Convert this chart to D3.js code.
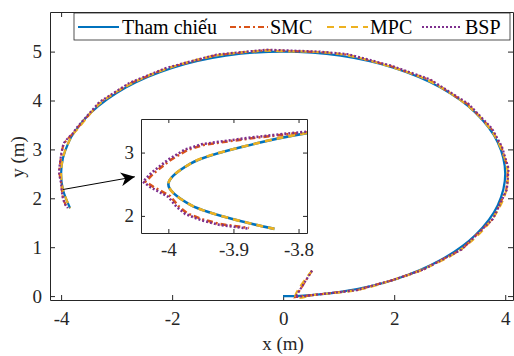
<!DOCTYPE html>
<html>
<head>
<meta charset="utf-8">
<script src="https://cdn.jsdelivr.net/npm/d3@7"></script>
<style>
  body { margin: 0; background: #fff; }
</style>
</head>
<body>
<svg id="chart" width="514" height="356"></svg>
<script>
// reference path (x, y) in metres
var refX = [0, 0.3, 1.035, 2.0, 2.828, 3.464, 3.864, 4.0, 3.864, 3.464, 2.828, 2.0, 1.035, 0, -1.035, -2.0, -2.828, -3.464, -3.780, -3.864, -3.966, -4.0, -3.966, -3.837];
var refY = [0, 0.003, 0.085, 0.335, 0.732, 1.25, 1.853, 2.5, 3.147, 3.75, 4.268, 4.665, 4.915, 5.0, 4.915, 4.665, 4.268, 3.75, 3.32, 3.147, 2.826, 2.5, 2.174, 1.795];

// SMC
var smcX = [0.52, 0.22, 0.6, 1.32, 1.98, 2.52, 3.21, 3.78, 4.02, 4.05, 3.93, 3.75, 3.33, 2.64, 1.92, 1.14, 0.66, -0.06, -0.3, -1.2, -2.1, -2.76, -3.3, -3.72, -3.787, -3.817, -3.869, -3.92, -3.946, -3.971, -3.997, -4.023, -4.035, -4.023, -3.997, -3.984, -3.971, -3.946, -3.92, -3.876];
var smcY = [0.52, -0.02, 0.03, 0.12, 0.33, 0.54, 0.95, 1.58, 2.17, 2.6, 3.05, 3.42, 3.92, 4.42, 4.71, 4.94, 4.99, 5.02, 5.03, 4.93, 4.66, 4.35, 3.96, 3.42, 3.32, 3.29, 3.23, 3.16, 3.12, 3.04, 2.88, 2.67, 2.54, 2.46, 2.31, 2.15, 2.04, 1.94, 1.87, 1.81];

// MPC
var mpcX = [0.52, 0.22, 0.6, 1.32, 1.98, 2.52, 3.21, 3.78, 4.02, 4.04, 3.92, 3.74, 3.32, 2.63, 1.91, 1.13, 0.65, -0.06, -0.3, -1.2, -2.1, -2.76, -3.3, -3.70, -3.780, -3.864, -3.966, -4.0, -3.966, -3.837];
var mpcY = [0.52, -0.02, 0.03, 0.12, 0.33, 0.55, 0.96, 1.6, 2.17, 2.58, 3.03, 3.4, 3.9, 4.4, 4.7, 4.93, 4.99, 5.01, 5.02, 4.92, 4.65, 4.33, 3.94, 3.42, 3.32, 3.147, 2.826, 2.5, 2.174, 1.795];

// BSP
var bspX = [0.52, 0.22, 0.6, 1.32, 1.98, 2.52, 3.21, 3.78, 4.03, 4.06, 3.94, 3.76, 3.34, 2.65, 1.93, 1.15, 0.66, -0.06, -0.3, -1.2, -2.1, -2.77, -3.31, -3.73, -3.787, -3.818, -3.871, -3.923, -3.949, -3.974, -4.0, -4.026, -4.039, -4.027, -4.0, -3.987, -3.974, -3.949, -3.922, -3.878];
var bspY = [0.52, -0.02, 0.03, 0.12, 0.33, 0.54, 0.95, 1.58, 2.18, 2.61, 3.06, 3.43, 3.93, 4.43, 4.72, 4.95, 5.0, 5.03, 5.04, 4.94, 4.67, 4.36, 3.97, 3.43, 3.33, 3.30, 3.24, 3.17, 3.13, 3.05, 2.89, 2.68, 2.54, 2.45, 2.30, 2.14, 2.03, 1.93, 1.86, 1.80];

var xTicks = [-4, -2, 0, 2, 4];
var yTicks = [0, 1, 2, 3, 4, 5];
var insetXTicks = [-4, -3.9, -3.8];
var insetYTicks = [2, 3];
var legendNames = ["Tham chiếu", "SMC", "MPC", "BSP"];

var FONT = "'Liberation Serif', 'Times New Roman', 'DejaVu Serif', serif";

function zip(xs, ys) {
    return xs.map(function (d, i) { return [d, ys[i]]; });
}
function minusFmt(d) {
    return d < 0 ? "-" + Math.abs(d) : "" + d;
}

var series = [
    { name: legendNames[0], pts: zip(refX, refY), color: "#0072BD", dash: null, smooth: true },
    { name: legendNames[1], pts: zip(smcX, smcY), color: "#D95319", dash: "6,3,2,3", smooth: false },
    { name: legendNames[2], pts: zip(mpcX, mpcY), color: "#EDB120", dash: "7,5", smooth: true },
    { name: legendNames[3], pts: zip(bspX, bspY), color: "#7E2F8E", dash: "2,2", smooth: false }
];

var svg = d3.select("#chart");
var defs = svg.append("defs");

var x = d3.scaleLinear().domain([-4.2, 4.14]).range([50, 513]),
    y = d3.scaleLinear().domain([-0.08, 5.81]).range([300, 12]);

defs.append("clipPath").attr("id", "mainClip")
    .append("rect").attr("x", 50).attr("y", 12).attr("width", 463).attr("height", 288);

function styleAxis(g) {
    g.attr("font-family", FONT);
    g.selectAll(".domain").attr("stroke", "#262626");
    g.selectAll(".tick line").attr("stroke", "#262626");
    g.selectAll(".tick text")
        .style("font-family", FONT)
        .style("font-size", "19px")
        .attr("fill", "#262626");
}

// axes
svg.append("g").attr("transform", "translate(0,300)")
    .call(d3.axisBottom(x).tickValues(xTicks).tickFormat(minusFmt).tickSizeInner(-5).tickSizeOuter(0).tickPadding(12))
    .call(styleAxis);
svg.append("g").attr("transform", "translate(50,0)")
    .call(d3.axisLeft(y).tickValues(yTicks).tickFormat(minusFmt).tickSizeInner(-5).tickSizeOuter(0).tickPadding(8))
    .call(styleAxis);
svg.append("g").attr("transform", "translate(0,12)")
    .call(d3.axisTop(x).tickValues(xTicks).tickFormat("").tickSizeInner(-5).tickSizeOuter(0))
    .call(styleAxis);
svg.append("g").attr("transform", "translate(513,0)")
    .call(d3.axisRight(y).tickValues(yTicks).tickFormat("").tickSizeInner(-5).tickSizeOuter(0))
    .call(styleAxis);

svg.append("text").attr("x", 283).attr("y", 350).attr("text-anchor", "middle")
    .style("font-family", FONT).attr("fill", "#262626")
    .style("font-size", "19px").text("x (m)");
svg.append("text").attr("transform", "translate(24,157) rotate(-90)").attr("text-anchor", "middle")
    .style("font-family", FONT).attr("fill", "#262626")
    .style("font-size", "19px").text("y (m)");

// main lines
var plot = svg.append("g").attr("clip-path", "url(#mainClip)");
function drawLines(g, sx, sy, w) {
    series.forEach(function (s) {
        var line = d3.line()
            .x(function (d) { return sx(d[0]); })
            .y(function (d) { return sy(d[1]); })
            .curve(s.smooth ? d3.curveCatmullRom : d3.curveLinear);
        g.append("path").datum(s.pts)
            .attr("d", line)
            .attr("fill", "none")
            .attr("stroke", s.color)
            .attr("stroke-width", w)
            .attr("stroke-dasharray", s.dash);
    });
}
drawLines(plot, x, y, 2.2);

// arrow to inset
defs.append("marker").attr("id", "arr")
    .attr("viewBox", "0 0 10 10").attr("refX", 10).attr("refY", 5)
    .attr("markerWidth", 14).attr("markerHeight", 14).attr("markerUnits", "userSpaceOnUse")
    .attr("orient", "auto")
    .append("path").attr("d", "M0,0 L10,5 L0,10 L3,5 Z").attr("fill", "#000");
svg.append("line")
    .attr("x1", x(-3.964)).attr("y1", y(2.18))
    .attr("x2", x(-2.672)).attr("y2", y(2.44))
    .attr("stroke", "#000").attr("stroke-width", 1)
    .attr("marker-end", "url(#arr)");

// inset
var ix = d3.scaleLinear().domain([-4.042, -3.787]).range([141, 307]),
    iy = d3.scaleLinear().domain([1.73, 3.53]).range([233, 119]);
defs.append("clipPath").attr("id", "insetClip")
    .append("rect").attr("x", 141).attr("y", 119).attr("width", 166).attr("height", 114);
svg.append("rect").attr("x", 141).attr("y", 119).attr("width", 166).attr("height", 114)
    .attr("fill", "#fff");
var inset = svg.append("g").attr("clip-path", "url(#insetClip)");
drawLines(inset, ix, iy, 2.6);

svg.append("g").attr("transform", "translate(0,233)")
    .call(d3.axisBottom(ix).tickValues(insetXTicks).tickFormat(minusFmt).tickSizeInner(-4).tickSizeOuter(0).tickPadding(10))
    .call(styleAxis);
svg.append("g").attr("transform", "translate(141,0)")
    .call(d3.axisLeft(iy).tickValues(insetYTicks).tickFormat(minusFmt).tickSizeInner(-4).tickSizeOuter(0).tickPadding(7))
    .call(styleAxis);
svg.append("g").attr("transform", "translate(0,119)")
    .call(d3.axisTop(ix).tickValues(insetXTicks).tickFormat("").tickSizeInner(-4).tickSizeOuter(0))
    .call(styleAxis);
svg.append("g").attr("transform", "translate(307,0)")
    .call(d3.axisRight(iy).tickValues(insetYTicks).tickFormat("").tickSizeInner(-4).tickSizeOuter(0))
    .call(styleAxis);

// legend
var lg = svg.append("g");
lg.append("rect").attr("x", 74).attr("y", 13).attr("width", 436).attr("height", 27)
    .attr("fill", "#fff").attr("stroke", "#262626").attr("stroke-width", 0.8);
var legendPos = [[78, 119, 122], [230, 268, 270], [327, 368, 370], [422, 460, 465]];
series.forEach(function (s, i) {
    var p = legendPos[i];
    lg.append("line").attr("x1", p[0]).attr("x2", p[1]).attr("y1", 27).attr("y2", 27)
        .attr("stroke", s.color).attr("stroke-width", 2).attr("stroke-dasharray", s.dash);
    lg.append("text").attr("x", p[2]).attr("y", 34)
        .style("font-family", FONT).attr("fill", "#000")
        .style("font-size", "20px").text(s.name);
});
</script>
</body>
</html>
